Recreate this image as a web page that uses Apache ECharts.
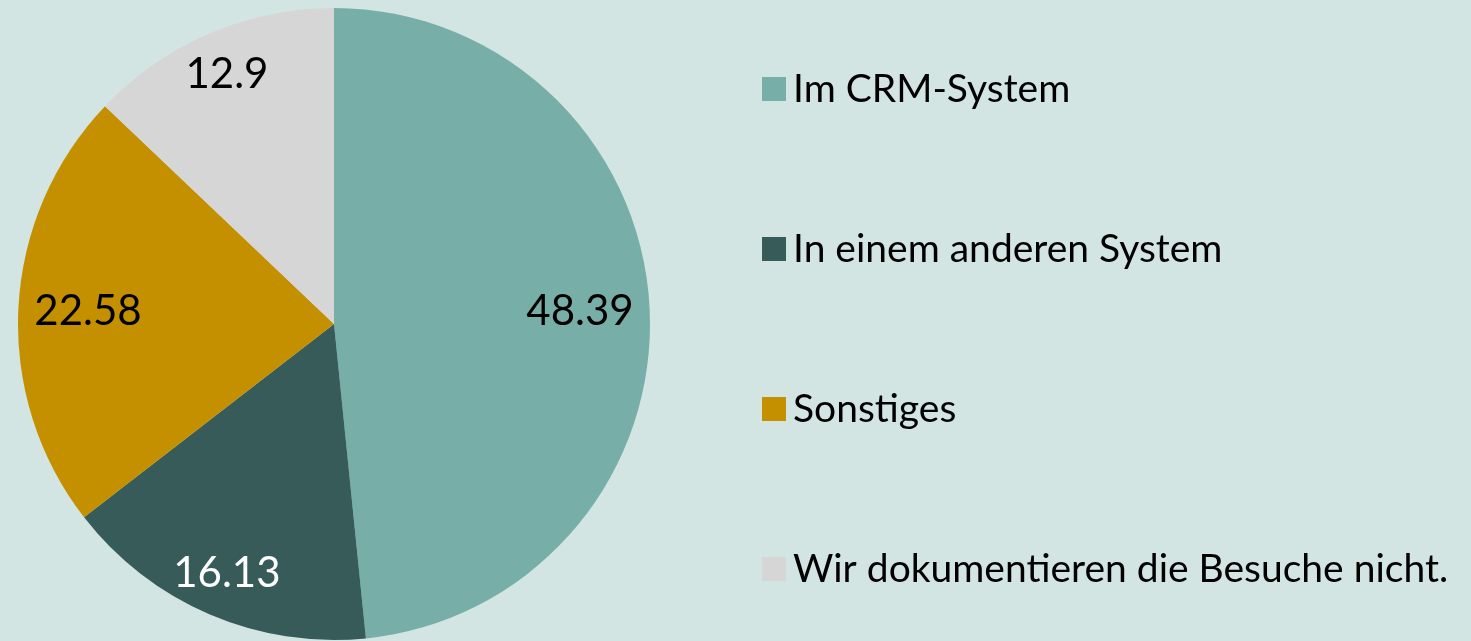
<!DOCTYPE html>
<html>
<head>
<meta charset="utf-8">
<script src="https://cdn.jsdelivr.net/npm/echarts@6/dist/echarts.min.js"></script>
<style>
  html, body { margin: 0; padding: 0; background: #d3e5e2; }
  #chart { width: 1471px; height: 641px; }
</style>
</head>
<body>
<div id="chart"></div>
<script>
// Kategorien und Werte (Prozent)
const categories = [
  "Im CRM-System",
  "In einem anderen System",
  "Sonstiges",
  "Wir dokumentieren die Besuche nicht."
];
const values = [48.39, 16.13, 22.58, 12.9];
const colors = ["#77aea8", "#365b58", "#c49000", "#d6d6d6"];
const labelColors = ["#000000", "#ffffff", "#000000", "#000000"];
// welche Beschriftung weiter außen sitzt
const labelOuter = [false, true, false, true];

const FONT = "Lato, 'Open Sans', sans-serif";
const R = 316;
const center = [334, 324];

const chart = echarts.init(document.getElementById("chart"));

const pieData = categories.map((name, i) => ({
  name: name,
  value: values[i],
  itemStyle: { color: colors[i] },
}));

// Beschriftungen auf unsichtbaren Ringen
const labelData = (outer) =>
  categories.map((name, i) => ({
    name: name,
    value: values[i],
    label: { show: labelOuter[i] === outer, color: labelColors[i] },
  }));

const labelRing = (inner, outer) => ({
  type: "pie",
  center: center,
  radius: [R * inner, R],
  startAngle: 90,
  clockwise: true,
  data: labelData(outer),
  itemStyle: { color: "rgba(0,0,0,0)" },
  label: {
    position: "inside",
    formatter: "{c}",
    fontFamily: FONT,
    fontSize: 42,
  },
  labelLine: { show: false },
  silent: true,
  legendHoverLink: false,
});

chart.setOption({
  backgroundColor: "#d3e5e2",
  animation: false,
  legend: {
    orient: "vertical",
    left: 757,
    top: 64,
    itemWidth: 24,
    itemHeight: 24,
    itemGap: 120,
    icon: "rect",
    data: categories,
    textStyle: {
      fontFamily: FONT,
      fontSize: 39,
      lineHeight: 40,
      color: "#000",
      padding: [0, 0, 0, 2],
    },
  },
  series: [
    {
      type: "pie",
      center: center,
      radius: [0, R],
      startAngle: 90,
      clockwise: true,
      data: pieData,
      label: { show: false },
      labelLine: { show: false },
      silent: true,
    },
    labelRing(0.54, false),
    labelRing(0.7, true),
  ],
});
</script>
</body>
</html>
